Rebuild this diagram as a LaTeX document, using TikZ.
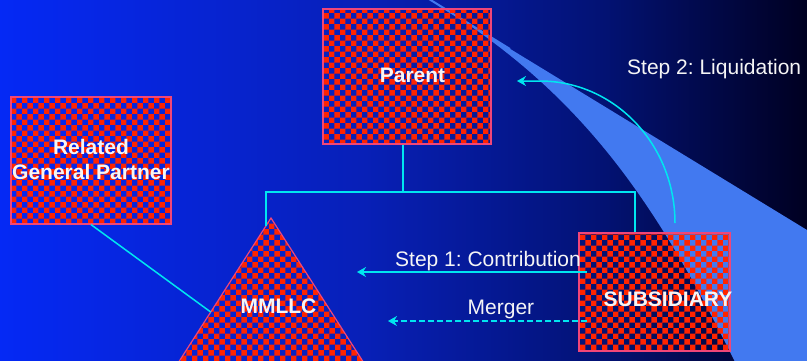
\documentclass[tikz,border=0pt]{standalone}
\usepackage{fontspec}
\setmainfont{Liberation Sans}
\usetikzlibrary{patterns,arrows.meta}

\definecolor{swoosh}{RGB}{66,121,240}
\definecolor{checkred}{RGB}{255,36,0}
\definecolor{edgepink}{RGB}{240,70,120}
\definecolor{linkcyan}{RGB}{0,230,240}
\definecolor{labelwhite}{RGB}{245,245,245}

% left-to-right fade from bright blue to near black
\pgfdeclarehorizontalshading{navyfade}{100bp}{%
  rgb(0bp)=(0.02,0.16,0.96); rgb(25bp)=(0.02,0.16,0.96);
  rgb(47.5bp)=(0.03,0.125,0.72); rgb(62.5bp)=(0.01,0.07,0.45);
  rgb(75bp)=(0,0,0.13); rgb(100bp)=(0,0,0.13)}

\tikzset{
  entity/.style={draw=edgepink, line width=1.2pt, pattern=checkerboard, pattern color=checkred},
  boxlabel/.style={text=labelwhite, font=\bfseries\fontsize{21}{25}\selectfont, align=center, inner sep=0pt},
  steplabel/.style={text=labelwhite, font=\fontsize{21}{25}\selectfont, inner sep=0pt},
  link/.style={draw=linkcyan, line width=1.5pt},
  flow/.style={link, -{Stealth[length=9pt,width=10pt,inset=3pt]}},
}

\begin{document}
\frenchspacing
\begin{tikzpicture}[x=1pt,y=-1pt]
  \useasboundingbox (0,0) rectangle (807,360);
  \clip (0,0) rectangle (807,360);

  % backdrop
  \shade[shading=navyfade] (0,0) rectangle (807,360);

  % light blue sweep on the right, with its thin tail at the top
  \fill[swoosh] (430,0) -- (807,230) -- (807,362) -- (735,362)
    .. controls (655,200) and (580,90) .. (430,0) -- cycle;
  \draw[swoosh, line width=2pt] (429,-1) -- (510,49);

  % entities
  \node[entity, minimum width=168pt, minimum height=135pt] (parent) at (407,76.5) {};
  \node[entity, minimum width=160pt, minimum height=127pt] (related) at (91,160.5) {};
  \node[entity, minimum width=151pt, minimum height=118pt] (subsidiary) at (654.5,292) {};

  \coordinate (apex) at (271,218);
  \coordinate (baseL) at (178.7,362);
  \coordinate (baseR) at (363.3,362);
  \draw[entity] (apex) -- (baseL) -- (baseR) -- cycle;

  % ownership tree
  \coordinate (trunk) at (403,192);
  \coordinate (jl) at (266,192);
  \coordinate (jr) at (635,192);
  \coordinate (mtop) at (266,225.8);
  \coordinate (mleft) at (210.7,312);
  \draw[link] (parent.south -| trunk) -- (trunk);
  \draw[link] (mtop) -- (jl) -- (jr) -- (jr |- subsidiary.north);
  \draw[link] (related.south) -- (mleft);

  % transaction steps
  \coordinate (contribS) at (587,272);
  \coordinate (contribE) at (357,272);
  \coordinate (mergeS) at (587,321);
  \coordinate (mergeE) at (388,321);
  \coordinate (liqS) at (675,223);
  \coordinate (liqE) at (517,81);
  \draw[flow] (contribS) -- (contribE);
  \draw[flow, dash pattern=on 6pt off 3pt] (mergeS) -- (mergeE);
  \draw[flow] (liqS) .. controls (675,144.6) and (614.6,81) .. (540,81) -- (liqE);

  % labels
  \node[boxlabel] (parentlbl) at (412.5,75) {Parent};
  \node[boxlabel] (relatedlbl) at (91,159) {Related\\General Partner};
  \node[boxlabel] (mmllc) at (278.5,306) {MMLLC};
  \node[boxlabel] (sublbl) at (668,299.5) {SUBSIDIARY};
  \node[steplabel, anchor=base west] (step1) at (395,266) {Step 1: Contribution};
  \node[steplabel, anchor=base west] (merger) at (467.5,314) {Merger};
  \node[steplabel, anchor=base west] (step2) at (627,74) {Step 2: Liquidation};
\end{tikzpicture}
\end{document}
